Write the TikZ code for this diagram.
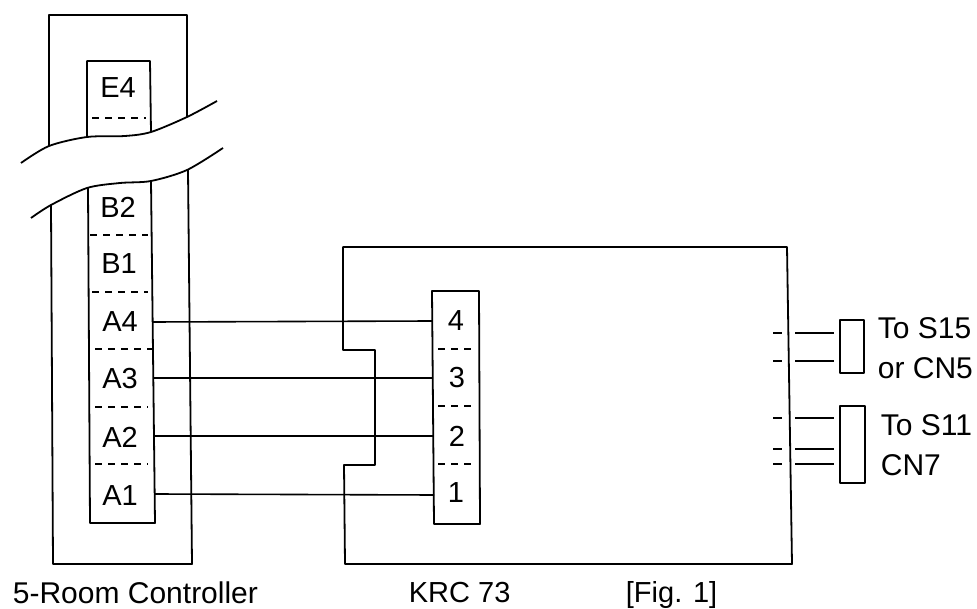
\documentclass[tikz,border=0pt]{standalone}
\usepackage{fontspec}
\setmainfont{Liberation Sans}
\begin{document}
\begin{tikzpicture}[x=1pt,y=-1pt,line width=1.8pt,line join=round,
	lab/.style={inner sep=0pt,font=\fontsize{29}{30}\selectfont},
	txt/.style={inner sep=0pt,anchor=west,font=\fontsize{30}{32}\selectfont},
	sep/.style={line width=1.5pt,dash pattern=on 7pt off 6pt},
	wire/.style={line width=1.6pt}]
	\useasboundingbox (0,0) rectangle (977,609);
	% le controleur, coupe en deux
	\draw (49,146) -- (49,15) -- (187,15) -- (187,117);
	\draw (87,137) -- (87,61) -- (150,61) -- (151,132);
	\draw (51,205) -- (53,564) -- (192,564) -- (188,170);
	\draw (88,188) -- (90,523) -- (155,523) -- (151,181);
	\draw[smooth] plot coordinates {(21,163) (49,146) (87,137) (125,136) (151,132) (187,117) (217,101)};
	\draw[smooth] plot coordinates {(31,218) (51,205) (87,188) (120,183) (151,181) (187,170) (223,148)};
	\draw[sep] (92,118) -- (146,118);
	\draw[sep] (90,235) -- (148,235);
	\draw[sep] (92,292) -- (148,292);
	\draw[sep] (95,349) -- (152,349);
	\draw[sep] (95,407) -- (148,407);
	\draw[sep] (95,464) -- (148,464);
	\node[lab] (e4) at (118,88) {E4};
	\node[lab] (b2) at (118,207) {B2};
	\node[lab] (b1) at (119,264) {B1};
	\node[lab] (a4) at (120,322) {A4};
	\node[lab] (a3) at (120,379) {A3};
	\node[lab] (a2) at (120,437) {A2};
	\node[lab] (a1) at (120,496) {A1};
	% le KRC 73
	\draw (343,350) -- (343,247) -- (787,247) -- (792,564) -- (345,564) -- (344,465) -- (375,465) -- (375,350) -- cycle;
	\draw (432,291) -- (479,291) -- (480,524) -- (434,524) -- cycle;
	\draw[sep] (438,349) -- (476,349);
	\draw[sep] (438,406) -- (476,406);
	\draw[sep] (438,464) -- (476,464);
	\node[lab] (n4) at (456,321) {4};
	\node[lab] (n3) at (457,378) {3};
	\node[lab] (n2) at (457,436) {2};
	\node[lab] (n1) at (456,493) {1};
	\coordinate (p4) at (432,321); \coordinate (p3) at (433,378);
	\coordinate (p2) at (433,436); \coordinate (p1) at (434,495);
	\coordinate (q4) at (152,322); \coordinate (q3) at (153,378);
	\coordinate (q2) at (154,436); \coordinate (q1) at (155,494);
	\draw[wire] (q4) -- (p4);
	\draw[wire] (q3) -- (p3);
	\draw[wire] (q2) -- (p2);
	\draw[wire] (q1) -- (p1);
	% les connecteurs de droite
	\draw (840,320) rectangle (864,373);
	\draw (840,406) rectangle (865,483);
	\foreach \y in {333,361,418,449,464} {
		\draw (773,\y) -- (782,\y);
		\draw (795,\y) -- (834,\y);
	}
	\node[txt] (s15) at (877,328) {To S15};
	\node[txt] (cn5) at (877,368) {or CN5};
	\node[txt] (s11) at (880,425) {To S11};
	\node[txt] (cn7) at (880,465) {CN7};
	\node[txt] (ctrl) at (12,593) {5-Room Controller};
	\node[txt,font=\fontsize{29}{30}\selectfont] (krc) at (408,593) {KRC 73};
	\node[txt,font=\fontsize{29}{30}\selectfont] (fig) at (625,595) {[Fig. 1]};
\end{tikzpicture}
\end{document}
